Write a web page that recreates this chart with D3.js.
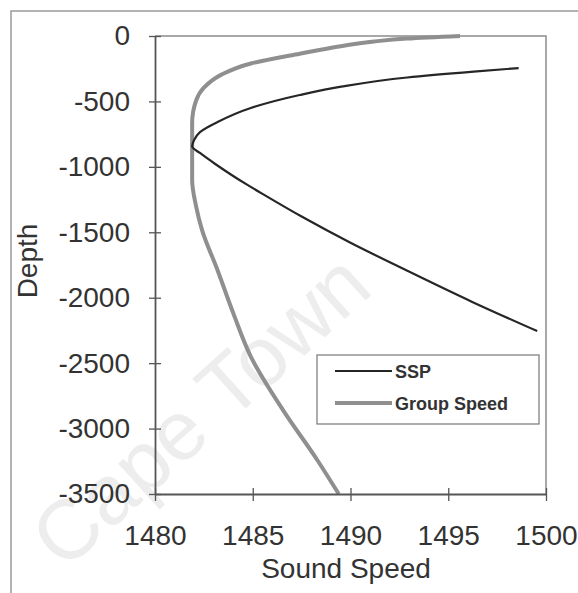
<!DOCTYPE html>
<html>
<head>
<meta charset="utf-8">
<script src="https://cdn.jsdelivr.net/npm/d3@7"></script>
<style>
  body { margin: 0; background: #fff; }
  svg { display: block; font-family: "Liberation Sans", Arial, sans-serif; }
</style>
</head>
<body>
<svg id="chart" width="578" height="593"></svg>
<script>
// values
var xTicks = [1480, 1485, 1490, 1495, 1500];
var yTicks = [0, -500, -1000, -1500, -2000, -2500, -3000, -3500];

var sspSpeed = [1498.6, 1496.3, 1492.9, 1489.6, 1487.4, 1484.9, 1483.2, 1482.3, 1482.0, 1481.9,
                1482.3, 1483.1, 1483.9, 1484.75, 1485.65, 1487.5, 1490.0, 1492.85, 1496.2, 1499.55];
var sspDepth = [-245, -272, -317, -385, -451, -550, -657, -734, -795, -845,
                -894, -980, -1060, -1140, -1220, -1380, -1580, -1790, -2030, -2255];

var groupSpeed = [1495.6, 1492.9, 1491.2, 1489.5, 1487.4, 1484.9, 1483.4, 1482.5, 1482.1, 1481.9,
                  1481.9, 1481.9, 1482.1, 1482.4, 1483.2, 1484.0, 1484.9, 1486.6, 1488.3, 1489.4];
var groupDepth = [0, -20, -42, -78, -135, -210, -295, -395, -495, -665,
                  -848, -1100, -1300, -1480, -1790, -2117, -2450, -2870, -3240, -3500];

var svg = d3.select('#chart');
var margin = {left: 155, top: 36, right: 546, bottom: 494};

var x = d3.scaleLinear().domain([1480, 1500]).range([margin.left, margin.right]);
var y = d3.scaleLinear().domain([0, -3500]).range([margin.top, margin.bottom]);

// outer frame of the scanned figure
svg.append('rect')
    .attr('x', 11).attr('y', 11).attr('width', 620).attr('height', 620)
    .attr('fill', 'none').attr('stroke', '#9a9a9a').attr('stroke-width', 1.5);

// faint watermark from the scan
svg.append('text')
    .attr('transform', 'translate(64,572) rotate(-42)')
    .attr('font-size', 84)
    .attr('fill', '#ededed')
    .text('Cape Town');

// plot frame top/right
svg.append('path')
    .attr('d', 'M' + x(1480) + ',' + y(0) + 'H' + x(1500) + 'V' + y(-3500))
    .attr('fill', 'none').attr('stroke', '#8c8c8c').attr('stroke-width', 1.5);

var line = d3.line()
    .x(function(d) { return x(d[0]); })
    .y(function(d) { return y(d[1]); })
    .curve(d3.curveMonotoneY);

svg.append('path')
    .datum(d3.zip(groupSpeed, groupDepth))
    .attr('d', line)
    .attr('fill', 'none').attr('stroke', '#8f8f8f').attr('stroke-width', 4);

svg.append('path')
    .datum(d3.zip(sspSpeed, sspDepth))
    .attr('d', line)
    .attr('fill', 'none').attr('stroke', '#262626').attr('stroke-width', 2.2);

// axes
var gy = svg.append('g')
    .attr('transform', 'translate(' + margin.left + ',0)')
    .call(d3.axisLeft(y).tickValues(yTicks).tickFormat(function(d) { return String(d); })
      .tickSize(6).tickSizeOuter(0).tickPadding(19));
gy.selectAll('.tick line').attr('x1', 6);

var gx = svg.append('g')
    .attr('transform', 'translate(0,' + margin.bottom + ')')
    .call(d3.axisBottom(x).tickValues(xTicks).tickFormat(function(d) { return String(d); })
      .tickSize(7).tickSizeOuter(0).tickPadding(24));
gx.selectAll('.tick line').attr('y1', -6);

[gx, gy].forEach(function(g) {
  g.select('.domain').attr('stroke', '#555').attr('stroke-width', 1.8);
  g.selectAll('.tick line').attr('stroke', '#555').attr('stroke-width', 1.3);
  g.selectAll('.tick text').attr('font-size', 28).attr('fill', '#333')
    .attr('font-family', '"Liberation Sans", Arial, sans-serif');
});

// axis titles
svg.append('text')
    .attr('x', 346).attr('y', 578)
    .attr('text-anchor', 'middle').attr('font-size', 28).attr('fill', '#333')
    .text('Sound Speed');

svg.append('text')
    .attr('transform', 'translate(37,261) rotate(-90)')
    .attr('text-anchor', 'middle').attr('font-size', 28).attr('fill', '#333')
    .text('Depth');

// legend
var legend = svg.append('g');
legend.append('rect')
    .attr('x', 317).attr('y', 355).attr('width', 222).attr('height', 69)
    .attr('fill', '#fff').attr('stroke', '#777').attr('stroke-width', 1.2);

var legendItems = [
  {name: 'SSP', color: '#262626', width: 2, y: 371},
  {name: 'Group Speed', color: '#8f8f8f', width: 4, y: 403}
];
legendItems.forEach(function(d) {
  legend.append('line')
      .attr('x1', 335).attr('x2', 392).attr('y1', d.y).attr('y2', d.y)
      .attr('stroke', d.color).attr('stroke-width', d.width);
  legend.append('text')
      .attr('x', 395).attr('y', d.y + 7)
      .attr('font-size', 18).attr('font-weight', 'bold').attr('fill', '#333')
      .text(d.name);
});
</script>
</body>
</html>
